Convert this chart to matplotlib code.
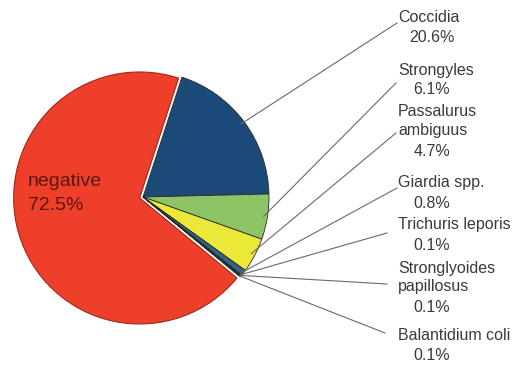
import matplotlib
matplotlib.use("Agg")
import matplotlib.pyplot as plt
import numpy as np

# data (percent of samples, multi-infection so they sum above 100)
names = ["Coccidia", "Strongyles", "Passalurus\nambiguus", "Giardia spp.",
         "Trichuris leporis", "Stronglyoides\npapillosus", "Balantidium coli",
         "negative"]
values = [20.6, 6.1, 4.7, 0.8, 0.1, 0.1, 0.1, 72.5]
pct_labels = ["20.6%", "6.1%", "4.7%", "0.8%", "0.1%", "0.1%", "0.1%", "72.5%"]
colors = ["#1c4a78", "#8cc466", "#ece83a", "#2f6484", "#3d6f96", "#2b4f6e",
          "#556f85", "#ee3f2a"]

W, H = 516, 373
fig = plt.figure(figsize=(W / 100, H / 100), dpi=100)
ax = fig.add_axes([0, 0, 1, 1])

cx, cy, R = 143, H - 197, 126
# explode offset is in data units (pixels here)
explode = [0, 0, 0, 0, 0, 0, 0, 3.5]
wedges, _ = ax.pie(values, colors=colors, startangle=72, counterclock=False,
                   center=(cx, cy), radius=R, explode=explode,
                   wedgeprops=dict(edgecolor="#2a2a2a", linewidth=0.6))
wedges[-1].set_edgecolor("#9a2a1a")
wedges[-1].set_linewidth(0.8)

ax.set_xlim(0, W)
ax.set_ylim(0, H)
ax.set_aspect("equal")
ax.axis("off")

# label layout (pixel coords, y from top)
name_y = [17, 70, 112, 183, 225, 268, 335]
line_end = [(397, 23), (396, 83), (396, 133), (397, 188),
            (387, 233), (387, 284), (385, 333)]
txt_kw = dict(family="Liberation Sans", fontsize=11.5, color="#3a3a3a")
for i in range(7):
    w = wedges[i]
    mid = np.deg2rad((w.theta1 + w.theta2) / 2)
    r = R * (0.97 if i < 3 else 0.99)
    sx, sy = cx + r * np.cos(mid), cy + r * np.sin(mid)
    ex, ey = line_end[i]
    ax.plot([sx, ex], [sy, H - ey], color="#6a6a6a", lw=0.8)
    parts = names[i].split("\n")
    for k, part in enumerate(parts):
        ax.text(398, H - (name_y[i] + 19 * k), part, ha="left", va="center",
                **txt_kw)
    ax.text(432, H - (name_y[i] + 19 * len(parts) + 1), pct_labels[i],
            ha="center", va="center", **txt_kw)

neg_kw = dict(family="Liberation Sans", fontsize=14, color="#5a1710",
              ha="left", va="center")
ax.text(28, H - 182, names[-1], **neg_kw)
ax.text(28, H - 205, pct_labels[-1], **neg_kw)

fig.savefig("out.png", dpi=100)
